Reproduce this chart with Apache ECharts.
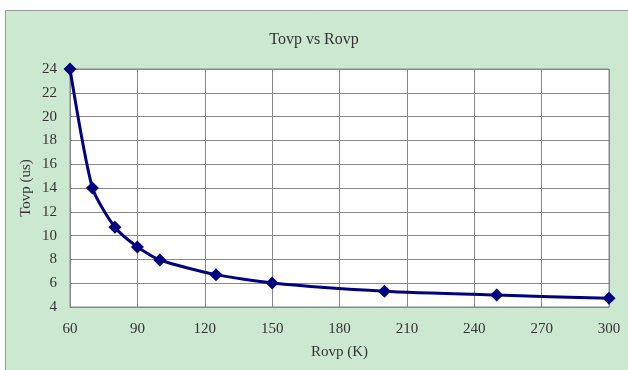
<!DOCTYPE html>
<html><head><meta charset="utf-8">
<script src="https://cdn.jsdelivr.net/npm/echarts@6/dist/echarts.min.js"></script>
<style>html,body{margin:0;padding:0;background:#fff}#c{width:628px;height:370px}</style>
</head><body><div id="c"></div>
<script>
const rovp = [60, 70, 80, 90, 100, 125, 150, 200, 250, 300];
const tovp = [24, 14, 10.7, 9.05, 7.95, 6.72, 6.02, 5.33, 5.0, 4.73];
const title = 'Tovp vs Rovp';
const xName = 'Rovp (K)';
const yName = 'Tovp (us)';
const font = '"Liberation Serif", "DejaVu Serif", serif';
const chart = echarts.init(document.getElementById('c'));
chart.setOption({
  animation: false,
  backgroundColor: '#ffffff',
  graphic: [{
    type: 'rect', z: -10, silent: true,
    shape: {x: 5.5, y: 10.5, width: 640, height: 380},
    style: {fill: '#cde8d0', stroke: '#999999', lineWidth: 1}
  }],
  title: {
    text: title, left: 'center', top: 27,
    textStyle: {fontFamily: font, fontSize: 16, fontWeight: 'normal', color: '#333'}
  },
  grid: {left: 70, right: 19, top: 69, bottom: 63, show: true, backgroundColor: '#ffffff', borderColor: '#888', borderWidth: 1},
  xAxis: {
    type: 'value', min: 60, max: 300, interval: 30,
    name: xName, nameLocation: 'middle', nameGap: 38,
    nameTextStyle: {fontFamily: font, fontSize: 15, color: '#333'},
    axisLine: {show: true, lineStyle: {color: '#888'}},
    axisTick: {show: false},
    axisLabel: {fontFamily: font, fontSize: 15, color: '#333', margin: 15},
    splitLine: {show: true, lineStyle: {color: '#888', width: 1}}
  },
  yAxis: {
    type: 'value', min: 4, max: 24, interval: 2,
    name: yName, nameLocation: 'middle', nameGap: 36, nameRotate: 90,
    nameMoveOverlap: false,
    nameTextStyle: {fontFamily: font, fontSize: 15, color: '#333'},
    axisLine: {show: true, lineStyle: {color: '#888'}},
    axisTick: {show: false},
    axisLabel: {fontFamily: font, fontSize: 15, color: '#333', margin: 13},
    splitLine: {show: true, lineStyle: {color: '#888', width: 1}}
  },
  series: [{
    type: 'line',
    data: rovp.map((x, i) => [x, tovp[i]]),
    smooth: 0.22,
    symbol: 'diamond', symbolSize: 13,
    lineStyle: {color: '#000080', width: 3},
    itemStyle: {color: '#000080'}
  }]
});
</script></body></html>
